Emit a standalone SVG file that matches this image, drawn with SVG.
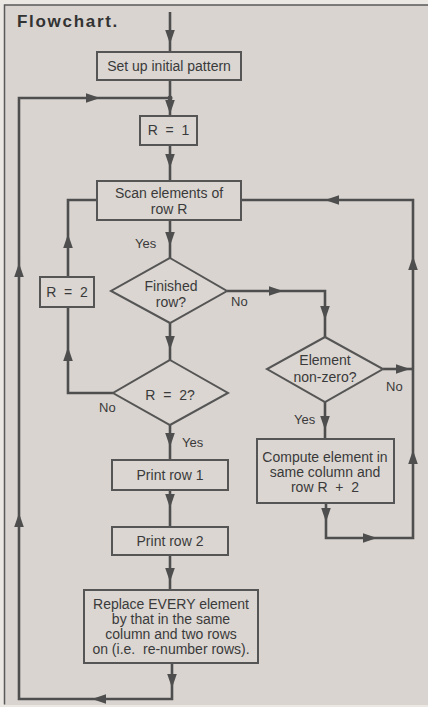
<svg xmlns="http://www.w3.org/2000/svg" xmlns:xlink="http://www.w3.org/1999/xlink" width="428" height="707" viewBox="0 0 428 707">
<style>
.bg{fill:#d9d4d0}
.frame{fill:none;stroke:#5a5a5a;stroke-width:1.5}
.box{fill:#dbd6d2;stroke:#555;stroke-width:2}
.ln{fill:none;stroke:#4e4e4e;stroke-width:2.6;stroke-linejoin:miter}
.t{font-family:"Liberation Sans",Arial,sans-serif;font-size:14px;fill:#3a3a3a;text-anchor:middle;white-space:pre}
.lbl{font-family:"Liberation Sans",Arial,sans-serif;font-size:13px;fill:#3a3a3a}
.title{font-family:"Liberation Sans",Arial,sans-serif;font-size:17px;font-weight:bold;fill:#333;letter-spacing:1.7px}
.ah{fill:#4e4e4e}
</style>
<defs>
<path id="ah" class="ah" d="M0,0 L-14,-4.8 L-14,4.8 Z"/>
</defs>
<rect x="0" y="0" width="428" height="707" fill="#ebe7e3"/>
<rect class="bg" x="4" y="5" width="424" height="700"/>
<path class="frame" d="M428,5 H4.5 V704.5"/>
<text class="title" x="17" y="27">Flowchart.</text>

<g id="connectors">
<path class="ln" d="M170,12 V52"/>
<path class="ln" d="M170,80 V116"/>
<path class="ln" d="M170,145 V181"/>
<path class="ln" d="M170,220 V258"/>
<path class="ln" d="M170,323 V360"/>
<path class="ln" d="M170,425 V460"/>
<path class="ln" d="M170,490 V527"/>
<path class="ln" d="M170,555 V590"/>
<path class="ln" d="M172,663 V699 H19 V98 H170"/>
<path class="ln" d="M113,393 H68 V200 H97"/>
<path class="ln" d="M227,291 H325 V337"/>
<path class="ln" d="M383,369 H413"/>
<path class="ln" d="M325,402 V439"/>
<path class="ln" d="M326,503 V538 H413 V200 H241"/>
<circle cx="170" cy="98" r="2.5" fill="#4e4e4e"/>
<use xlink:href="#ah" transform="translate(170,44) rotate(90)"/>
<use xlink:href="#ah" transform="translate(100,98)"/>
<use xlink:href="#ah" transform="translate(170,114) rotate(90)"/>
<use xlink:href="#ah" transform="translate(170,168) rotate(90)"/>
<use xlink:href="#ah" transform="translate(170,246) rotate(90)"/>
<use xlink:href="#ah" transform="translate(170,350) rotate(90)"/>
<use xlink:href="#ah" transform="translate(170,447) rotate(90)"/>
<use xlink:href="#ah" transform="translate(170,508) rotate(90)"/>
<use xlink:href="#ah" transform="translate(170,582) rotate(90)"/>
<use xlink:href="#ah" transform="translate(172,688) rotate(90)"/>
<use xlink:href="#ah" transform="translate(92,699) rotate(180)"/>
<use xlink:href="#ah" transform="translate(19,513) rotate(-90)"/>
<use xlink:href="#ah" transform="translate(19,263) rotate(-90)"/>
<use xlink:href="#ah" transform="translate(68,347) rotate(-90)"/>
<use xlink:href="#ah" transform="translate(68,234) rotate(-90)"/>
<use xlink:href="#ah" transform="translate(283,291)"/>
<use xlink:href="#ah" transform="translate(325,320) rotate(90)"/>
<use xlink:href="#ah" transform="translate(410,369)"/>
<use xlink:href="#ah" transform="translate(325,430) rotate(90)"/>
<use xlink:href="#ah" transform="translate(326,522) rotate(90)"/>
<use xlink:href="#ah" transform="translate(377,538)"/>
<use xlink:href="#ah" transform="translate(413,450) rotate(-90)"/>
<use xlink:href="#ah" transform="translate(413,256) rotate(-90)"/>
<use xlink:href="#ah" transform="translate(325,200) rotate(180)"/>
<text class="lbl" x="135" y="248">Yes</text>
<text class="lbl" x="231" y="306">No</text>
<text class="lbl" x="99" y="412">No</text>
<text class="lbl" x="182" y="447">Yes</text>
<text class="lbl" x="386" y="391">No</text>
<text class="lbl" x="294" y="424">Yes</text>
</g>

<g id="setup">
<rect class="box" x="97" y="52" width="144" height="28"/>
<text class="t" x="169" y="71">Set up initial pattern</text>
</g>
<g id="r1">
<rect class="box" x="140" y="116" width="57" height="29"/>
<text class="t" x="168.5" y="135" xml:space="preserve">R  =  1</text>
</g>
<g id="scan">
<rect class="box" x="97" y="181" width="144" height="39"/>
<text class="t" x="169" y="198">Scan elements of</text>
<text class="t" x="169" y="214">row R</text>
</g>
<g id="r2">
<rect class="box" x="40" y="277" width="54" height="30"/>
<text class="t" x="67" y="297" xml:space="preserve">R  =  2</text>
</g>
<g id="finished">
<path class="box" d="M170,258 L227,291 L170,323 L111,291 Z"/>
<text class="t" x="171" y="291">Finished</text>
<text class="t" x="171" y="307">row?</text>
</g>
<g id="r2q">
<path class="box" d="M170,360 L228,393 L170,425 L113,393 Z"/>
<text class="t" x="170" y="400" xml:space="preserve">R  =  2?</text>
</g>
<g id="element">
<path class="box" d="M325,337 L383,369 L325,402 L267,369 Z"/>
<text class="t" x="325" y="365">Element</text>
<text class="t" x="325" y="382">non-zero?</text>
</g>
<g id="compute">
<rect class="box" x="257" y="439" width="137" height="64"/>
<text class="t" x="325" y="462">Compute element in</text>
<text class="t" x="325" y="477">same column and</text>
<text class="t" x="325" y="492" xml:space="preserve">row R  +  2</text>
</g>
<g id="print1">
<rect class="box" x="112" y="460" width="116" height="30"/>
<text class="t" x="170" y="480">Print row 1</text>
</g>
<g id="print2">
<rect class="box" x="112" y="527" width="116" height="28"/>
<text class="t" x="170" y="546">Print row 2</text>
</g>
<g id="replace">
<rect class="box" x="84" y="590" width="174" height="73"/>
<text class="t" x="171" y="609">Replace EVERY element</text>
<text class="t" x="171" y="624">by that in the same</text>
<text class="t" x="171" y="639">column and two rows</text>
<text class="t" x="171" y="654" xml:space="preserve">on (i.e.  re-number rows).</text>
</g>
</svg>
